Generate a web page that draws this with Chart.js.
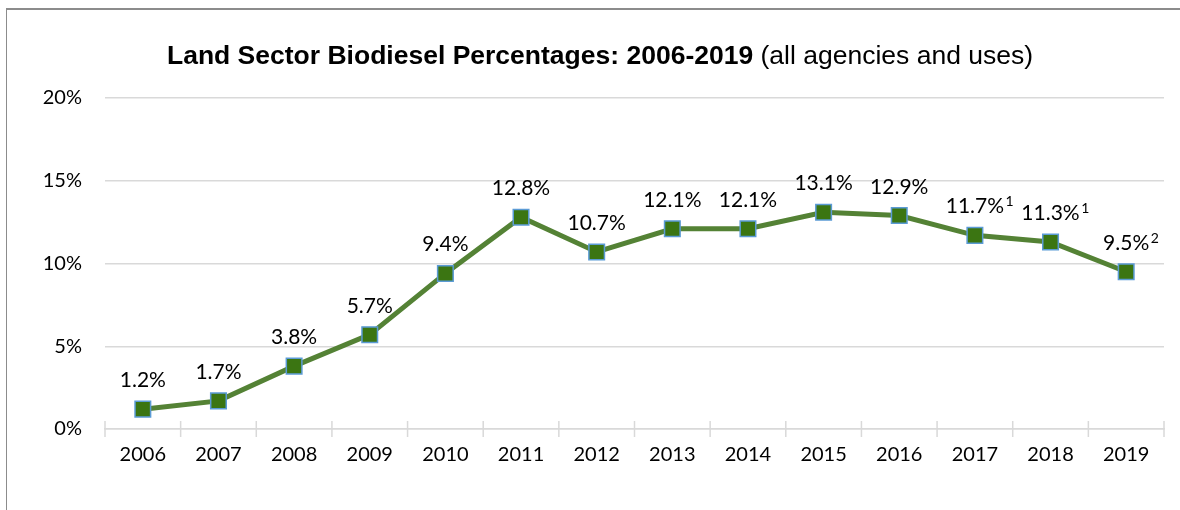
<!DOCTYPE html>
<html>
<head>
<meta charset="utf-8">
<script src="https://cdn.jsdelivr.net/npm/chart.js@4.4.1/dist/chart.umd.min.js"></script>
<style>
  html, body { margin: 0; padding: 0; background: #ffffff; }
  #wrap { position: relative; width: 1180px; height: 510px; }
  #frame { position: absolute; left: 6px; top: 8px; right: 0; bottom: 0;
           border-top: 2px solid #8c8c8c; border-left: 1.5px solid #8c8c8c; pointer-events: none; }
  canvas { position: absolute; left: 0; top: 0; }
</style>
</head>
<body>
<div id="wrap">
  <canvas id="c" width="1180" height="510"></canvas>
  <div id="frame"></div>
</div>
<script>
const years = ['2006','2007','2008','2009','2010','2011','2012','2013','2014','2015','2016','2017','2018','2019'];
const biodieselPct = [1.2, 1.7, 3.8, 5.7, 9.4, 12.8, 10.7, 12.1, 12.1, 13.1, 12.9, 11.7, 11.3, 9.5];
const footnotes = ['', '', '', '', '', '', '', '', '', '', '', '1', '1', '2'];
const yTicks = [0, 5, 10, 15, 20];
const titleBold = 'Land Sector Biodiesel Percentages: 2006-2019';
const titleNormal = ' (all agencies and uses)';

const FONT = 'Lato, "Open Sans", sans-serif';
const GRID = '#d9d9d9';

const titlePlugin = {
  id: 'titlePlugin',
  afterDraw(chart) {
    const ctx = chart.ctx;
    ctx.save();
    ctx.fillStyle = '#000';
    ctx.textBaseline = 'alphabetic';
    const fb = 'bold 26.5px "Liberation Sans", Arial, sans-serif';
    const fn = '26.5px "Liberation Sans", Arial, sans-serif';
    ctx.font = fb; const wb = ctx.measureText(titleBold).width;
    ctx.font = fn; const wn = ctx.measureText(titleNormal).width;
    const cx = 600;
    const x0 = cx - (wb + wn) / 2;
    ctx.textAlign = 'left';
    ctx.font = fb; ctx.fillText(titleBold, x0, 64);
    ctx.font = fn; ctx.fillText(titleNormal, x0 + wb, 64);
    ctx.restore();
  }
};

const xTickPlugin = {
  id: 'xTickPlugin',
  beforeDatasetsDraw(chart) {
    const ctx = chart.ctx;
    const xs = chart.scales.x;
    const y0 = chart.scales.y.getPixelForValue(0);
    const n = years.length;
    const step = (xs.getPixelForValue(n - 1) - xs.getPixelForValue(0)) / (n - 1);
    ctx.save();
    ctx.strokeStyle = GRID;
    ctx.lineWidth = 1.5;
    ctx.beginPath();
    for (let i = 0; i <= n; i++) {
      const x = xs.getPixelForValue(0) - step / 2 + i * step;
      ctx.moveTo(x, y0 - 8);
      ctx.lineTo(x, y0 + 8);
    }
    ctx.stroke();
    ctx.restore();
  }
};

const labelPlugin = {
  id: 'labelPlugin',
  afterDatasetsDraw(chart) {
    const ctx = chart.ctx;
    const meta = chart.getDatasetMeta(0);
    ctx.save();
    ctx.fillStyle = '#000';
    ctx.textBaseline = 'alphabetic';
    meta.data.forEach((pt, i) => {
      const main = biodieselPct[i].toFixed(1) + '%';
      const sup = footnotes[i];
      ctx.font = '21px ' + FONT;
      const wm = ctx.measureText(main).width;
      const x0 = pt.x - wm / 2;
      const y = pt.y - 22;
      ctx.textAlign = 'left';
      ctx.font = '21px ' + FONT;
      ctx.fillText(main, x0, y);
      if (sup) {
        ctx.font = '14px ' + FONT;
        ctx.fillText(sup, x0 + wm + 1.5, y - 7);
      }
    });
    ctx.restore();
  }
};

new Chart(document.getElementById('c'), {
  type: 'line',
  data: {
    labels: years,
    datasets: [{
      data: biodieselPct,
      borderColor: '#548235',
      borderWidth: 5,
      pointStyle: 'rect',
      pointRadius: 11,
      pointHoverRadius: 11,
      pointBackgroundColor: '#3b7512',
      pointBorderColor: '#5b9bd5',
      pointBorderWidth: 1.5,
      tension: 0,
      clip: false
    }]
  },
  options: {
    responsive: false,
    animation: false,
    devicePixelRatio: 1,
    layout: { padding: { left: 0, right: 16, top: 98, bottom: 0 } },
    plugins: { legend: { display: false }, title: { display: false }, tooltip: { enabled: false } },
    scales: {
      x: {
        offset: true,
        grid: { display: false, drawTicks: false },
        border: { display: true, color: GRID, width: 1.5 },
        ticks: { color: '#000', font: { family: FONT, size: 20 }, padding: 14, maxRotation: 0, autoSkip: false },
        afterFit(s) { s.height = 81; }
      },
      y: {
        min: 0, max: 20,
        afterBuildTicks(s) { s.ticks = yTicks.map(v => ({ value: v })); },
        grid: { color: GRID, lineWidth: 1.5, drawTicks: false },
        border: { display: false },
        ticks: { color: '#000', font: { family: FONT, size: 20 }, padding: 23, callback: v => v + '%' },
        afterFit(s) { s.width = 105; }
      }
    }
  },
  plugins: [xTickPlugin, labelPlugin, titlePlugin]
});
</script>
</body>
</html>
